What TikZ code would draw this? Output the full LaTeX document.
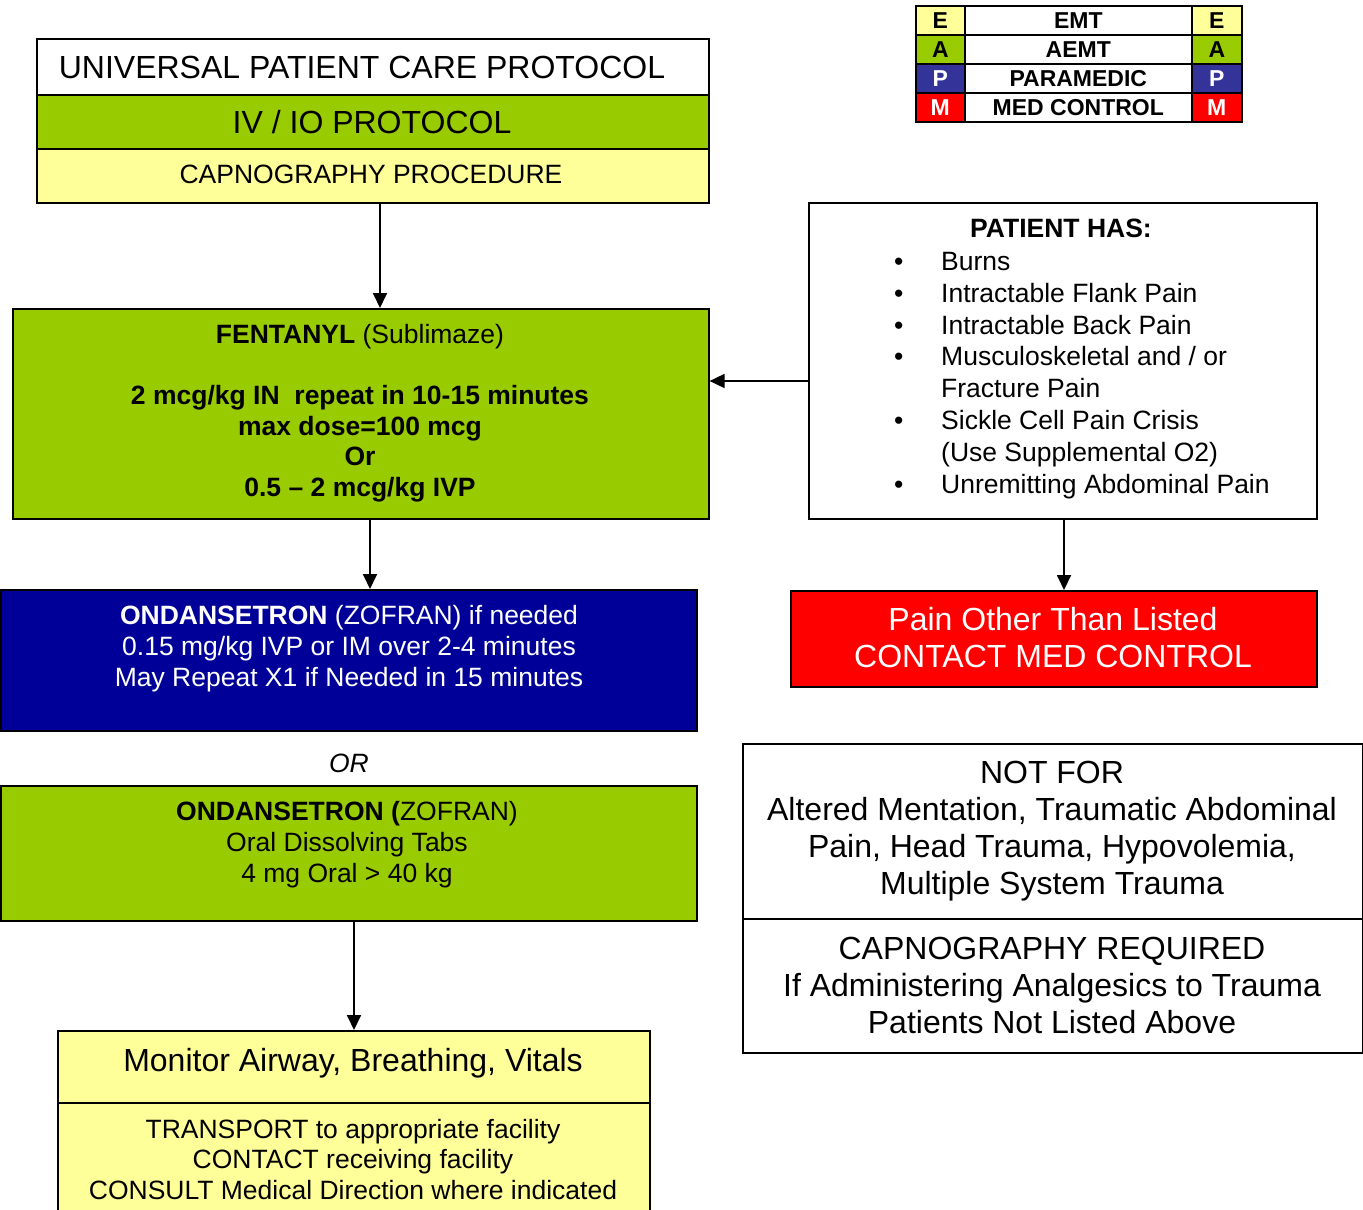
\documentclass[tikz,border=0pt]{standalone}
\usepackage{fontspec}
\setmainfont{Liberation Sans}
\usetikzlibrary{arrows.meta}
\definecolor{cyel}{HTML}{FFFF99}
\definecolor{cgrn}{HTML}{99CC00}
\definecolor{cnavy}{HTML}{000099}
\definecolor{cred}{HTML}{FF0000}
\definecolor{cpblue}{HTML}{333399}
\begin{document}
\begin{tikzpicture}[x=1pt,y=-1pt,
 box/.style={draw=black,line width=1.6pt,inner sep=0pt,anchor=north west},
 txt/.style={inner sep=0pt,align=center,font=\fontsize{26.5}{31}\selectfont},
 big/.style={inner sep=0pt,align=center,font=\fontsize{32}{37}\selectfont},
 leg/.style={inner sep=0pt,font=\fontsize{23}{27}\selectfont\bfseries},
 arr/.style={line width=1.8pt,-{Triangle[length=15pt,width=14pt]}}]
\useasboundingbox (0,0) rectangle (1363,1210);
\fill[white] (0,0) rectangle (1363,1210);

% legend
\node[box,fill=cyel,minimum width=49pt,minimum height=29pt] (le1) at (915,5) {};
\node[box,fill=white,minimum width=227pt,minimum height=29pt] (lm1) at (964,5) {};
\node[box,fill=cyel,minimum width=50pt,minimum height=29pt] (lr1) at (1191,5) {};
\node[box,fill=cgrn,minimum width=49pt,minimum height=29pt] (le2) at (915,34) {};
\node[box,fill=white,minimum width=227pt,minimum height=29pt] (lm2) at (964,34) {};
\node[box,fill=cgrn,minimum width=50pt,minimum height=29pt] (lr2) at (1191,34) {};
\node[box,fill=cpblue,minimum width=49pt,minimum height=29pt] (le3) at (915,63) {};
\node[box,fill=white,minimum width=227pt,minimum height=29pt] (lm3) at (964,63) {};
\node[box,fill=cpblue,minimum width=50pt,minimum height=29pt] (lr3) at (1191,63) {};
\node[box,fill=cred,minimum width=49pt,minimum height=29pt] (le4) at (915,92) {};
\node[box,fill=white,minimum width=227pt,minimum height=29pt] (lm4) at (964,92) {};
\node[box,fill=cred,minimum width=50pt,minimum height=29pt] (lr4) at (1191,92) {};
\node[leg] (t1) at (le1.center) {E};
\node[leg] (t2) at (lm1.center) {EMT};
\node[leg] (t3) at (lr1.center) {E};
\node[leg] (t4) at (le2.center) {A};
\node[leg] (t5) at (lm2.center) {AEMT};
\node[leg] (t6) at (lr2.center) {A};
\node[leg,text=white] (t7) at (le3.center) {P};
\node[leg] (t8) at (lm3.center) {PARAMEDIC};
\node[leg,text=white] (t9) at (lr3.center) {P};
\node[leg,text=white] (t10) at (le4.center) {M};
\node[leg] (t11) at (lm4.center) {MED CONTROL};
\node[leg,text=white] (t12) at (lr4.center) {M};

% top box
\node[box,fill=white,minimum width=672pt,minimum height=56pt] (top1) at (36,38) {};
\node[box,fill=cgrn,minimum width=672pt,minimum height=54pt] (top2) at (36,94) {};
\node[box,fill=cyel,minimum width=672pt,minimum height=54pt] (top3) at (36,148) {};
\node[big] (top1t) at (362,67) {UNIVERSAL PATIENT CARE PROTOCOL};
\node[big] (top2t) at (372,122) {IV / IO PROTOCOL};
\node[txt] (top3t) at (371,174) {CAPNOGRAPHY PROCEDURE};

% fentanyl
\node[box,fill=cgrn,minimum width=696pt,minimum height=210pt] (fent) at (12,308) {};
\node[txt,font=\fontsize{26.5}{30.6}\selectfont] (fentt) at (360,413) {\textbf{FENTANYL} (Sublimaze)\\[30.6pt]
\textbf{2 mcg/kg IN~ repeat in 10-15 minutes}\\
\textbf{max dose=100 mcg}\\
\textbf{Or}\\
\textbf{0.5 – 2 mcg/kg IVP}};

% patient has
\node[box,fill=white,minimum width=508pt,minimum height=316pt] (pat) at (808,202) {};
\node[txt,font=\fontsize{26.5}{31.9}\selectfont\bfseries] (path) at (1061,228) {PATIENT HAS:};
\node[txt,align=left,anchor=west,font=\fontsize{26.5}{31.9}\selectfont] (plist) at (894,375.5) {%
\makebox[47pt][l]{\textbullet}Burns\\
\makebox[47pt][l]{\textbullet}Intractable Flank Pain\\
\makebox[47pt][l]{\textbullet}Intractable Back Pain\\
\makebox[47pt][l]{\textbullet}Musculoskeletal and / or\\
\makebox[47pt][l]{}Fracture Pain\\
\makebox[47pt][l]{\textbullet}Sickle Cell Pain Crisis\\
\makebox[47pt][l]{}(Use Supplemental O2)\\
\makebox[47pt][l]{\textbullet}Unremitting Abdominal Pain};

% red
\node[box,fill=cred,minimum width=526pt,minimum height=96pt] (red) at (790,590) {};
\node[big,text=white] (redt) at (1053,637.5) {Pain Other Than Listed\\CONTACT MED CONTROL};

% ondansetron blue
\node[box,fill=cnavy,minimum width=696pt,minimum height=141pt] (ond) at (0,589) {};
\node[txt,text=white] (ondt) at (349,649) {\textbf{ONDANSETRON} (ZOFRAN) if needed\\
0.15 mg/kg IVP or IM over 2-4 minutes\\
May Repeat X1 if Needed in 15 minutes};

\node[txt,font=\fontsize{26.5}{31}\selectfont\itshape] (ort) at (349,763) {OR};

% ondansetron green
\node[box,fill=cgrn,minimum width=696pt,minimum height=135pt] (ondg) at (0,785) {};
\node[txt] (ondgt) at (347,845) {\textbf{ONDANSETRON (}ZOFRAN)\\
Oral Dissolving Tabs\\
4 mg Oral > 40 kg};

% not for
\node[box,fill=white,minimum width=620pt,minimum height=175pt] (notf) at (742,743) {};
\node[box,fill=white,minimum width=620pt,minimum height=134pt] (capr) at (742,918) {};
\node[big] (notft) at (1052,831.5) {NOT FOR\\Altered Mentation, Traumatic Abdominal\\Pain, Head Trauma, Hypovolemia,\\Multiple System Trauma};
\node[big] (caprt) at (1052,985) {CAPNOGRAPHY REQUIRED\\If Administering Analgesics to Trauma\\Patients Not Listed Above};

% monitor
\node[box,fill=cyel,minimum width=592pt,minimum height=72pt] (mon) at (57,1030) {};
\node[box,fill=cyel,minimum width=592pt,minimum height=140pt] (trans) at (57,1102) {};
\node[big] (mont) at (353,1063) {Monitor Airway, Breathing, Vitals};
\node[txt,font=\fontsize{26.5}{30.5}\selectfont] (transt) at (353,1159.5) {TRANSPORT to appropriate facility\\
CONTACT receiving facility\\
CONSULT Medical Direction where indicated};

% arrows
\draw[arr] (top3.south -| 380,0) -- (fent.north -| 380,0);
\draw[arr] (pat.west |- 0,381) -- (fent.east |- 0,381);
\draw[arr] (fent.south -| 370,0) -- (ond.north -| 370,0);
\draw[arr] (pat.south -| 1064,0) -- (red.north -| 1064,0);
\draw[arr] (ondg.south -| 354,0) -- (mon.north -| 354,0);
\end{tikzpicture}
\end{document}
